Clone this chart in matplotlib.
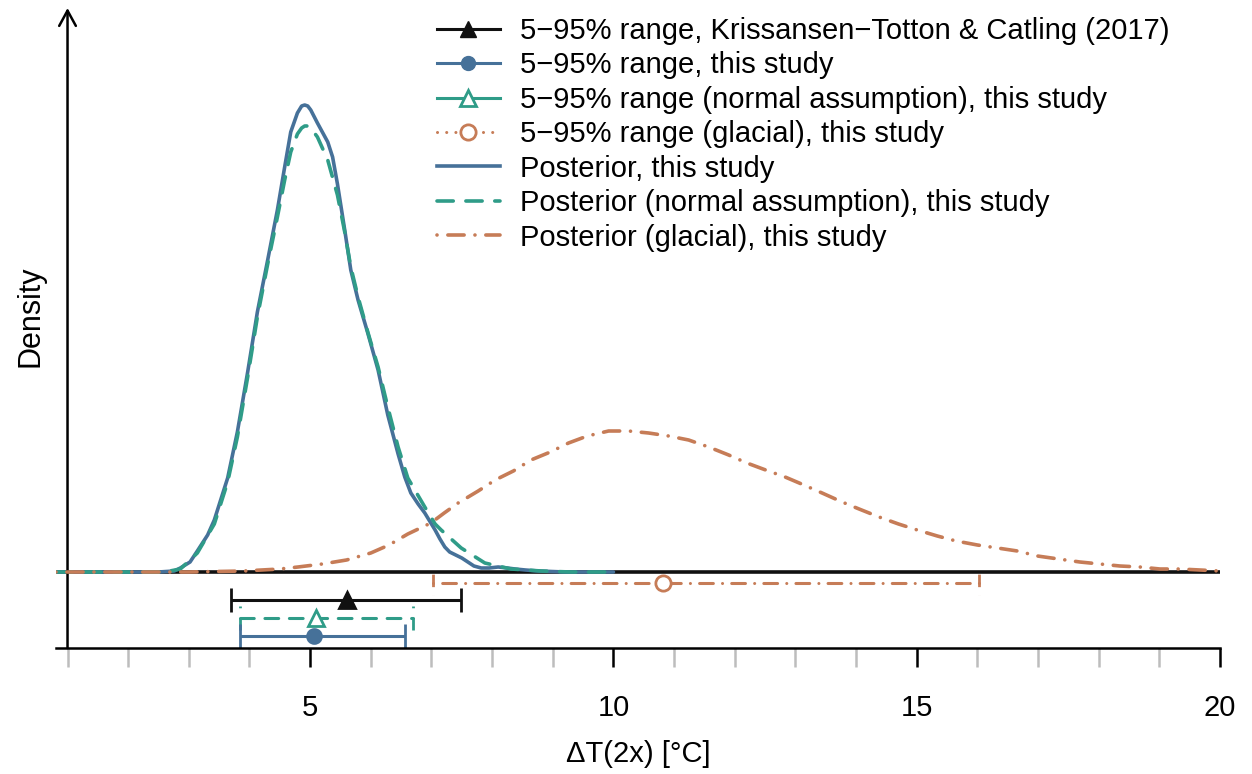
import numpy as np
import matplotlib.pyplot as plt
from matplotlib.lines import Line2D

plt.rcParams['font.family'] = ['Liberation Sans', 'DejaVu Sans']

# Posterior densities
post_x = [0.81, 2.5, 2.76, 2.86, 3.02, 3.14, 3.31, 3.42, 3.64, 3.80, 3.97, 4.13,
          4.30, 4.46, 4.58, 4.68, 4.79, 4.86, 4.91, 4.96, 5.01, 5.12, 5.29, 5.37, 5.45, 5.57,
          5.67, 5.79, 5.95, 6.12, 6.28, 6.45, 6.56, 6.66, 6.78, 6.89, 6.98, 7.06,
          7.14, 7.22, 7.30, 7.40, 7.50, 7.60, 7.70, 7.82, 7.95, 8.10, 8.25, 8.38,
          8.55, 8.76, 9.2, 10.0]
post_y = [0.0, 0.0, 0.001, 0.004, 0.010, 0.021, 0.037, 0.052, 0.094, 0.140, 0.200, 0.260,
          0.312, 0.362, 0.405, 0.440, 0.459, 0.466, 0.467, 0.466, 0.462, 0.449, 0.430, 0.415, 0.388, 0.342,
          0.302, 0.272, 0.239, 0.202, 0.157, 0.118, 0.095, 0.079, 0.068, 0.059, 0.050, 0.042,
          0.033, 0.025, 0.020, 0.017, 0.014, 0.010, 0.006, 0.004, 0.004, 0.005, 0.004, 0.003,
          0.002, 0.001, 0.0, 0.0]

normal_x = [0.81, 2.6, 2.86, 3.14, 3.42, 3.64, 3.80, 3.97, 4.13, 4.30, 4.46, 4.58,
            4.68, 4.79, 4.86, 4.91, 4.96, 5.01, 5.12, 5.29, 5.45, 5.57, 5.67, 5.79, 5.95, 6.12,
            6.28, 6.45, 6.61, 6.89, 7.06, 7.16, 7.49, 7.88, 8.31, 8.81, 9.3, 10.0]
normal_y = [0.0, 0.0, 0.003, 0.019, 0.048, 0.090, 0.135, 0.195, 0.255, 0.308, 0.355, 0.392,
            0.420, 0.438, 0.444, 0.446, 0.446, 0.444, 0.435, 0.412, 0.377, 0.340, 0.305, 0.275, 0.240, 0.205,
            0.165, 0.125, 0.094, 0.065, 0.048, 0.042, 0.024, 0.009, 0.003, 0.001, 0.0, 0.0]

glacial_x = [0.81, 3.0, 3.9, 4.5, 4.8, 5.2, 5.6, 6.0, 6.3, 6.61, 6.99, 7.21, 7.44,
             7.77, 8.05, 8.35, 8.64, 8.96, 9.26, 9.57, 9.92, 10.25, 10.58, 10.91, 11.24,
             11.57, 11.90, 12.20, 12.51, 12.83, 13.14, 13.44, 13.77, 14.05, 14.38, 14.70,
             15.01, 15.34, 15.65, 16.00, 16.33, 16.66, 16.99, 17.34, 17.69, 18.02, 18.35,
             18.68, 19.01, 19.34, 19.67, 20.0]
glacial_y = [0.0, 0.0, 0.001, 0.003, 0.005, 0.008, 0.012, 0.019, 0.027, 0.038, 0.049, 0.059, 0.069,
             0.081, 0.092, 0.101, 0.112, 0.120, 0.129, 0.136, 0.141, 0.141, 0.139, 0.136, 0.132,
             0.125, 0.117, 0.109, 0.102, 0.095, 0.087, 0.079, 0.070, 0.063, 0.055, 0.048,
             0.042, 0.036, 0.031, 0.027, 0.024, 0.021, 0.016, 0.013, 0.010, 0.008, 0.006,
             0.005, 0.003, 0.003, 0.002, 0.001]

# 5-95% ranges: low, best estimate, high
kt_range = [3.70, 5.60, 7.49]
study_range = [3.84, 5.06, 6.57]
normal_range = [3.84, 5.10, 6.70]
glacial_range = [7.02, 10.81, 16.02]

major_ticks = [5, 10, 15, 20]
minor_ticks = [1, 2, 3, 4, 6, 7, 8, 9, 11, 12, 13, 14, 16, 17, 18, 19]

blue = '#467199'
teal = '#2f9c88'
orange = '#c67c57'

dash = (4.5, 3.5)
dotdash = (0.01, 3.0, 4.5, 3.0)
dotted = (0.01, 3)
fs = 21

fig = plt.figure(figsize=(12.52, 7.74), dpi=100)
ax = fig.add_axes([56 / 1252, 1 - 648 / 774, 1164 / 1252, 640 / 774])
ax.set_xlim(0.81, 20)
ax.set_ylim(-0.076, 0.564)

# posterior curves
ax.axhline(0, color='#111111', lw=2.6, zorder=1)
ax.plot(post_x, post_y, color=blue, lw=2.6, zorder=2, solid_capstyle='round',
        solid_joinstyle='round')
ax.plot(normal_x, normal_y, color=teal, lw=2.6, zorder=3, dashes=dash, dash_capstyle='round')
ax.plot(glacial_x, glacial_y, color=orange, lw=2.6, zorder=4, dashes=dotdash, dash_capstyle='round')

# range bars
cap = 0.012


def draw_range(rng, y, color, marker, mfc, ms, dashes=None):
    lo, mid, hi = rng
    kw = dict(color=color, lw=2.2, dash_capstyle='round', solid_capstyle='butt')
    if dashes is not None:
        kw['dashes'] = dashes
    ax.plot([lo, hi], [y, y], **kw)
    ax.vlines([lo, hi], y - cap, y + cap, colors=color, lw=2.0,
              linestyles='solid' if dashes is None else (0, dashes))
    ax.plot([mid], [y], marker=marker, color=color, mfc=mfc, mew=2.0, ms=ms,
            linestyle='none', zorder=5)


draw_range(glacial_range, -0.011, orange, 'o', 'white', 11, dotdash)
draw_range(kt_range, -0.028, '#111111', '^', '#111111', 12)
draw_range(normal_range, -0.046, teal, '^', 'white', 12, dash)
draw_range(study_range, -0.064, blue, 'o', blue, 10)

# axes styling
for s in ['top', 'right', 'left']:
    ax.spines[s].set_visible(False)
ax.spines['bottom'].set_linewidth(1.8)
ax.set_yticks([])
ax.set_xticks(major_ticks)
ax.set_xticks(minor_ticks, minor=True)
ax.tick_params(axis='x', which='major', length=14, width=1.8, color='black',
               labelsize=fs, pad=19)
ax.tick_params(axis='x', which='minor', length=14, width=1.8, color='#bdbdbd')

ax.annotate('', xy=(1, 0.564), xytext=(1, -0.076),
            arrowprops=dict(arrowstyle='->,head_length=0.55,head_width=0.3',
                            lw=1.8, color='black', shrinkA=0, shrinkB=0,
                            mutation_scale=20),
            annotation_clip=False)

ax.set_xlabel('ΔT(2x) [°C]', fontsize=fs, labelpad=13)
ax.set_ylabel('Density', fontsize=fs + 1)
ax.yaxis.set_label_coords(-0.009, 0.518)

handles = [
    Line2D([], [], color='#111111', lw=2.2, marker='^', ms=12),
    Line2D([], [], color=blue, lw=2.2, marker='o', ms=10),
    Line2D([], [], color=teal, lw=2.2, marker='^', mfc='white', mew=2.0, ms=12),
    Line2D([], [], color=orange, lw=2.2, marker='o', mfc='white', mew=2.0, ms=11,
           dashes=dotted, dash_capstyle='round'),
    Line2D([], [], color=blue, lw=2.6),
    Line2D([], [], color=teal, lw=2.6, dashes=dash, dash_capstyle='round'),
    Line2D([], [], color=orange, lw=2.6, dashes=dotdash, dash_capstyle='round'),
]
labels = [
    '5−95% range, Krissansen−Totton & Catling (2017)',
    '5−95% range, this study',
    '5−95% range (normal assumption), this study',
    '5−95% range (glacial), this study',
    'Posterior, this study',
    'Posterior (normal assumption), this study',
    'Posterior (glacial), this study',
]
fig.legend(handles, labels, loc='upper left', bbox_to_anchor=(437 / 1252, 1 - 17 / 774),
           bbox_transform=fig.transFigure, frameon=False, fontsize=fs,
           handlelength=2.15, handletextpad=0.68, labelspacing=0.22,
           borderpad=0, borderaxespad=0)

fig.savefig('out.png', dpi=100)
